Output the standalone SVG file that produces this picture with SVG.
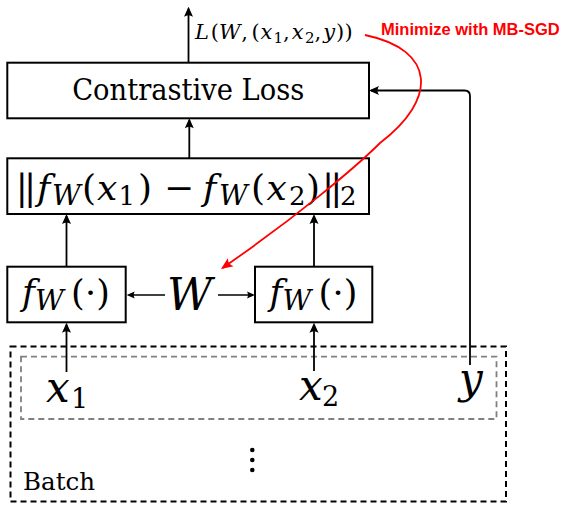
<svg xmlns="http://www.w3.org/2000/svg" width="562" height="505" viewBox="0 0 562 505">
<style>
.box{fill:#fff;stroke:#000;stroke-width:2}
.ln{fill:none;stroke:#000;stroke-width:1.8}
.thin{fill:none;stroke:#000;stroke-width:1.3}
.i{font-style:italic}
text{font-family:"DejaVu Serif",serif}
.bars{letter-spacing:-3.8px}
</style>
<defs>
<marker id="ah" markerUnits="userSpaceOnUse" markerWidth="14" markerHeight="12" viewBox="-10 -6 13 12" refX="0" refY="0" orient="auto"><path d="M2,0 L-8,-4.5 Q-5,0 -8,4.5 Z" fill="#000"/></marker>
<marker id="ahs" markerUnits="userSpaceOnUse" markerWidth="12" markerHeight="10" viewBox="-8 -5 11 10" refX="0" refY="0" orient="auto"><path d="M2,0 L-6,-3.5 Q-4,0 -6,3.5 Z" fill="#000"/></marker>
<marker id="ahr" markerUnits="userSpaceOnUse" markerWidth="16" markerHeight="14" viewBox="-12 -7 15 14" refX="0" refY="0" orient="auto"><path d="M2,0 L-10,-5 Q-6,0 -10,5 Z" fill="#ff0000"/></marker>
</defs>

<g id="batch">
<rect x="10.5" y="346.5" width="495.5" height="155" fill="none" stroke="#000" stroke-width="2" stroke-dasharray="6 4"/>
<rect x="21" y="356.7" width="475.5" height="62.3" fill="none" stroke="#808080" stroke-width="1.8" stroke-dasharray="6 4"/>
<circle cx="252.3" cy="450" r="2.3"/>
<circle cx="252.3" cy="460" r="2.3"/>
<circle cx="252.3" cy="470" r="2.3"/>
<text x="23" y="490" font-size="25" textLength="72" lengthAdjust="spacingAndGlyphs">Batch</text>
</g>

<g id="contrastive-loss">
<rect class="box" x="7.3" y="62.7" width="361.7" height="55.6"/>
<text x="188.2" y="100" font-size="30" text-anchor="middle" textLength="232" lengthAdjust="spacingAndGlyphs">Contrastive Loss</text>
</g>

<g id="norm">
<rect class="box" x="7.3" y="158.3" width="361.7" height="55.7"/>
<text y="200" font-size="36"><tspan class="bars" x="15.7">||</tspan><tspan class="i" x="37">f</tspan><tspan class="i" x="52" y="204.5" font-size="28">W</tspan><tspan x="82" y="200">(</tspan><tspan class="i" x="97">x</tspan><tspan x="118.5" y="205" font-size="26">1</tspan><tspan x="138" y="200">)</tspan><tspan x="164">−</tspan><tspan class="i" x="203">f</tspan><tspan class="i" x="219" y="204.5" font-size="28">W</tspan><tspan x="251" y="200">(</tspan><tspan class="i" x="266.5">x</tspan><tspan x="289" y="205" font-size="26">2</tspan><tspan x="306" y="200">)</tspan><tspan class="bars" x="322">||</tspan><tspan x="340" y="205" font-size="26">2</tspan></text>
</g>

<g id="fw1">
<rect class="box" x="7.3" y="266.7" width="118.4" height="55.6"/>
<text y="305" font-size="35"><tspan class="i" x="22">f</tspan><tspan class="i" x="35" y="310" font-size="28">W</tspan><tspan x="71" y="305">(</tspan><tspan x="85">·</tspan><tspan x="96.2">)</tspan></text>
</g>

<g id="fw2">
<rect class="box" x="255" y="266.7" width="117.3" height="55.6"/>
<text y="305" font-size="35"><tspan class="i" x="269.5">f</tspan><tspan class="i" x="282.5" y="310" font-size="28">W</tspan><tspan x="318.5" y="305">(</tspan><tspan x="332.5">·</tspan><tspan x="343.7">)</tspan></text>
</g>

<g id="W">
<text class="i" x="167" y="310" font-size="44">W</text>
</g>

<g id="x1">
<text y="402" font-size="42"><tspan class="i" x="46">x</tspan><tspan x="71" y="408" font-size="27">1</tspan></text>
</g>
<g id="x2">
<text y="400" font-size="42"><tspan class="i" x="299">x</tspan><tspan x="322" y="406" font-size="27">2</tspan></text>
</g>
<g id="y">
<text class="i" x="459" y="393" font-size="42">y</text>
</g>

<g id="loss-label">
<text y="39" font-size="21"><tspan class="i" x="195">L</tspan><tspan x="210.7">(</tspan><tspan class="i" x="219">W</tspan><tspan x="241.3">,</tspan><tspan x="251.5">(</tspan><tspan class="i" x="260.4">x</tspan><tspan x="273.6" y="43" font-size="15">1</tspan><tspan x="283" y="39">,</tspan><tspan class="i" x="291.8">x</tspan><tspan x="305" y="43" font-size="15">2</tspan><tspan x="314.5" y="39">,</tspan><tspan class="i" x="323.2">y</tspan><tspan x="336">)</tspan><tspan x="344.5">)</tspan></text>
</g>

<g id="minimize-label">
<text x="381" y="35" style="font-family:'Liberation Sans',Arial,sans-serif" font-weight="bold" font-size="16.5" fill="#ff0000">Minimize with MB-SGD</text>
</g>

<g id="connectors">
<path class="ln" d="M188.5,62.7 V8.7" marker-end="url(#ah)"/>
<path class="ln" d="M189.3,158.3 V120.3" marker-end="url(#ah)"/>
<path class="ln" d="M66.5,266.7 V216" marker-end="url(#ah)"/>
<path class="ln" d="M314,266.7 V216" marker-end="url(#ah)"/>
<path class="ln" d="M66.5,372 V324.7" marker-end="url(#ah)"/>
<path class="ln" d="M314,371 V324.7" marker-end="url(#ah)"/>
<path class="ln" d="M470,365 V96 Q470,90.5 464.5,90.5 H371" marker-end="url(#ah)"/>
<path class="thin" d="M165,295 H128.7" marker-end="url(#ahs)"/>
<path class="thin" d="M218,295 H253" marker-end="url(#ahs)"/>
<path d="M365,35 C437,50 437,100 380,143 C355,168 295,218 222.6,267.9" fill="none" stroke="#ff0000" stroke-width="1.8" marker-end="url(#ahr)"/>
</g>
</svg>
